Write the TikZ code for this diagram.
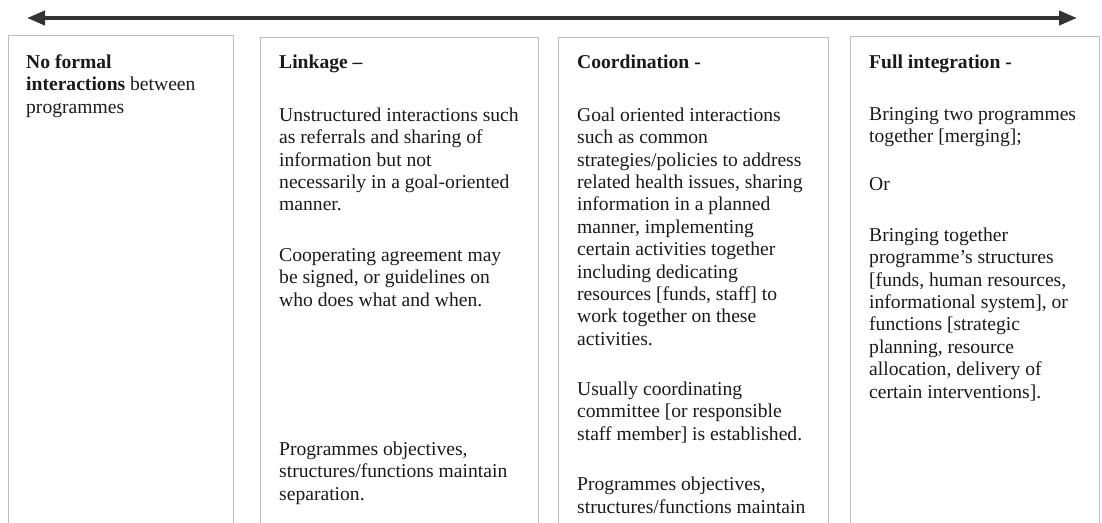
\documentclass[tikz,border=0pt]{standalone}
\usepackage{fontspec}
\setmainfont{Liberation Serif}
\usetikzlibrary{arrows.meta}
\definecolor{boxgrey}{HTML}{BDBDBD}
\definecolor{ink}{HTML}{1A1A1A}
\definecolor{arrowc}{HTML}{333333}
\newcommand{\tp}{\rule{0pt}{15pt}}
\begin{document}
\begin{tikzpicture}[x=1pt,y=-1pt,
  panel/.style={draw=boxgrey, line width=1pt, anchor=north west, inner sep=0pt, minimum height=520pt},
  txt/.style={anchor=north west, inner sep=0pt, align=left, text=ink, font=\fontsize{19.6}{22.4}\selectfont},
  head/.style={txt, font=\fontsize{19.6}{22.4}\selectfont\bfseries},
  bigarrow/.style={draw=arrowc, line width=4pt, {Triangle[length=18pt,width=14pt]}-{Triangle[length=18pt,width=14pt]}}
]
\useasboundingbox (0,0) rectangle (1102,522);
% continuum arrow
\coordinate (aL) at (27,18);
\coordinate (aR) at (1077,18);
\draw[bigarrow] (aL) -- (aR);
% panels
\node[panel, minimum width=225pt] (p1) at (8,35) {};
\node[panel, minimum width=278pt] (p2) at (260,37) {};
\node[panel, minimum width=270pt] (p3) at (558,37) {};
\node[panel, minimum width=249pt] (p4) at (850,36) {};
% panel 1
\node[txt] (t1) at (26,53) {\tp\textbf{No formal}\\\textbf{interactions} between\\programmes};
% panel 2
\node[head] (h2) at (279,53) {\tp Linkage –};
\node[txt] (l1) at (279,106) {\tp Unstructured interactions such\\as referrals and sharing of\\information but not\\necessarily in a goal-oriented\\manner.};
\node[txt] (l2) at (279,246) {\tp Cooperating agreement may\\be signed, or guidelines on\\who does what and when.};
\node[txt] (l3) at (279,440) {\tp Programmes objectives,\\structures/functions maintain\\separation.};
% panel 3
\node[head] (h3) at (577,53) {\tp Coordination -};
\node[txt] (c1) at (577,106) {\tp Goal oriented interactions\\such as common\\strategies/policies to address\\related health issues, sharing\\information in a planned\\manner, implementing\\certain activities together\\including dedicating\\resources [funds, staff] to\\work together on these\\activities.};
\node[txt] (c2) at (577,380) {\tp Usually coordinating\\committee [or responsible\\staff member] is established.};
\node[txt] (c3) at (577,475.5) {\tp Programmes objectives,\\structures/functions maintain};
% panel 4
\node[head] (h4) at (869,53) {\tp Full integration -};
\node[txt] (f1) at (869,105) {\tp Bringing two programmes\\together [merging];};
\node[txt] (f2) at (869,175) {\tp Or};
\node[txt] (f3) at (869,226) {\tp Bringing together\\programme’s structures\\{[}funds, human resources,\\informational system], or\\functions [strategic\\planning, resource\\allocation, delivery of\\certain interventions].};
\end{tikzpicture}
\end{document}
